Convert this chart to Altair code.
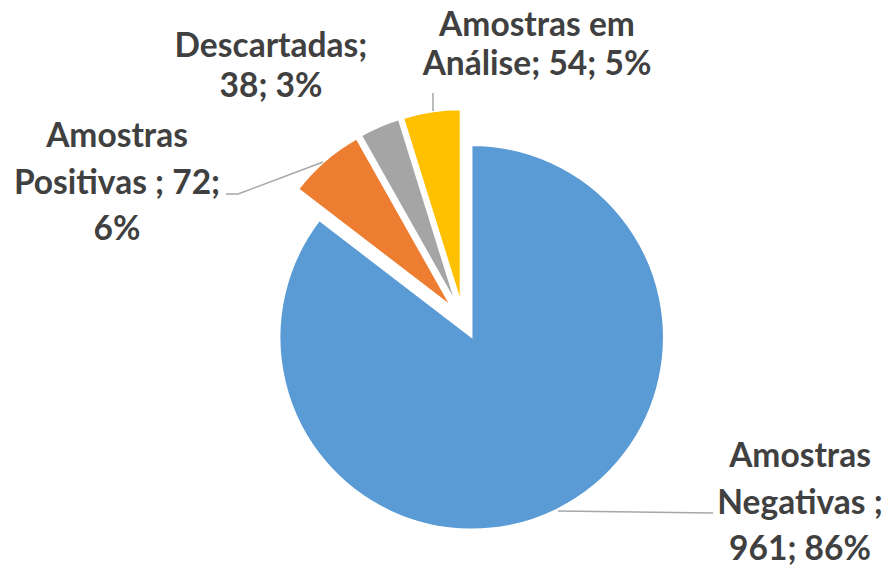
import altair as alt
import pandas as pd

# ---- data ----
categories = ["Amostras Negativas", "Amostras Positivas", "Descartadas", "Amostras em Análise"]
values = [961, 72, 38, 54]
percents = ["86%", "6%", "3%", "5%"]
colors = ["#5B9BD5", "#ED7D31", "#A5A5A5", "#FFC000"]

label_lines = [
    ["Amostras", "Negativas ;", f"{values[0]}; {percents[0]}"],
    ["Amostras", f"Positivas ; {values[1]};", percents[1]],
    ["Descartadas;", f"{values[2]}; {percents[2]}"],
    ["Amostras em", f"Análise; {values[3]}; {percents[3]}"],
]

df = pd.DataFrame({"category": categories, "value": values, "order": list(range(len(values)))})

# ---- layout ----
W, H = 889, 567
CX, CY = 463.3, 320.3      # pie centre
R = 192                    # radius
D = 19                     # explosion distance
FONT = "Lato"
FS = 33.5
TXT = "#404040"
LINE = "#A6A6A6"

label_pos = [  # (center x, first baseline y, line height)
    (800, 467, 46.5),
    (117, 147, 46.5),
    (271, 57, 40),
    (537, 36, 39),
]

pie = (
    alt.Chart(df)
    .transform_joinaggregate(total="sum(value)")
    .transform_window(cum="sum(value)", sort=[alt.SortField("order")], frame=[None, 0])
    .transform_calculate(
        a1="datum.cum / datum.total * 2 * PI",
        a0="(datum.cum - datum.value) / datum.total * 2 * PI",
    )
    .transform_calculate(mid="(datum.a0 + datum.a1) / 2")
    .transform_calculate(
        px=f"{CX} + {D} * sin(datum.mid)",
        py=f"{CY} - {D} * cos(datum.mid)",
    )
    .mark_arc(radius=R, stroke="white", strokeWidth=1.5)
    .encode(
        theta=alt.Theta("a0:Q", scale=None),
        theta2=alt.Theta2("a1:Q"),
        x=alt.X("px:Q", scale=None, axis=None),
        y=alt.Y("py:Q", scale=None, axis=None),
        color=alt.Color("category:N", scale=alt.Scale(domain=categories, range=colors), legend=None),
    )
)

base = alt.Chart(pd.DataFrame({"k": [0]}))

leaders = [
    ((433, 93), (433, 111)),
    ((226, 194), (238, 194)),
    ((238, 194), (323, 162)),
    ((558, 511), (713, 513)),
]
rules = [
    base.mark_rule(color=LINE, strokeWidth=1.5).encode(
        x=alt.value(a[0]), y=alt.value(a[1]), x2=alt.value(b[0]), y2=alt.value(b[1])
    )
    for a, b in leaders
]

texts = [
    base.mark_text(
        text=lines, font=FONT, fontSize=FS, fontWeight="bold", color=TXT,
        align="center", baseline="alphabetic", lineHeight=lh,
    ).encode(x=alt.value(x), y=alt.value(y))
    for lines, (x, y, lh) in zip(label_lines, label_pos)
]

chart = (
    alt.layer(pie, *rules, *texts)
    .properties(width=W, height=H, autosize="none", padding=0, background="white")
    .configure_view(stroke=None)
)

chart.save("out.html", embed_options={"renderer": "svg", "actions": False})
